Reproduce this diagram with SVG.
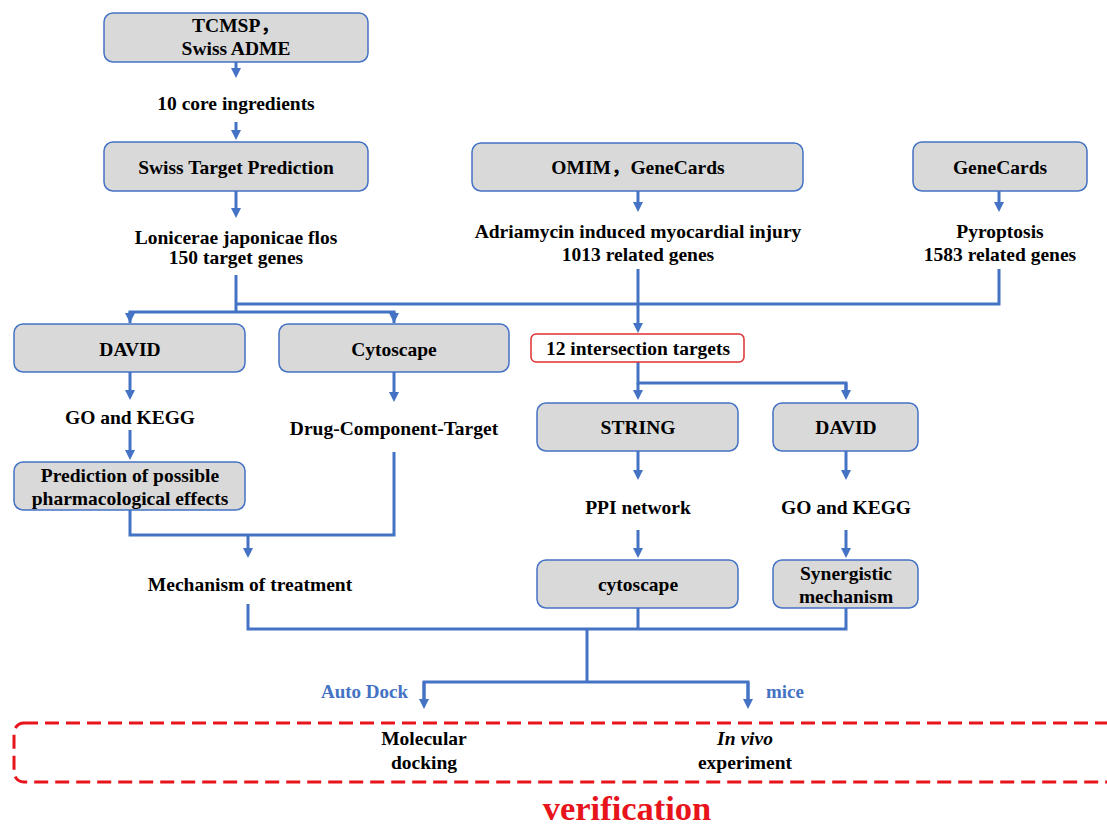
<svg xmlns="http://www.w3.org/2000/svg" width="1107" height="825" viewBox="0 0 1107 825">
<defs>
<style>
.box{fill:#d9d9d9;stroke:#4472c4;stroke-width:1.5}
.t{font-family:'Liberation Serif','Times New Roman','Noto Sans CJK SC',serif;font-weight:bold;font-size:19.5px;fill:#000;text-anchor:middle}
.b{font-family:'Liberation Serif','Times New Roman',serif;font-weight:bold;font-size:19px;fill:#4472c4}
.c{fill:none;stroke:#4472c4;stroke-width:3}
.ca{fill:none;stroke:#4472c4;stroke-width:3;marker-end:url(#ah)}
</style>
<marker id="ah" viewBox="0 0 10 10" refX="2" refY="5" markerWidth="10" markerHeight="10" markerUnits="userSpaceOnUse" orient="auto">
<path d="M0,0 L10,5 L0,10 z" fill="#4472c4"/>
</marker>
</defs>
<rect width="1107" height="825" fill="#fff"/>

<g id="connectors">
<line class="ca" x1="236" y1="62" x2="236" y2="70"/>
<line class="ca" x1="236" y1="122" x2="236" y2="132"/>
<line class="ca" x1="236" y1="191" x2="236" y2="210"/>
<line class="ca" x1="638" y1="191" x2="638" y2="204"/>
<line class="ca" x1="999" y1="191" x2="999" y2="204"/>
<polyline class="c" points="236,275 236,312"/>
<polyline class="c" points="236,304 999,304 999,269"/>
<polyline class="c" points="130,323 130,312 394,312 394,323"/>
<line class="ca" x1="130" y1="312" x2="130" y2="315"/>
<line class="ca" x1="394" y1="312" x2="394" y2="315"/>
<line class="ca" x1="638" y1="269" x2="638" y2="325"/>
<polyline class="c" points="638,362 638,383 846,383 846,392"/>
<line class="ca" x1="638" y1="383" x2="638" y2="392"/>
<line class="ca" x1="846" y1="383" x2="846" y2="392"/>
<line class="ca" x1="130" y1="372" x2="130" y2="392"/>
<line class="ca" x1="130" y1="430" x2="130" y2="452"/>
<line class="ca" x1="394" y1="372" x2="394" y2="394"/>
<polyline class="c" points="394,452 394,535 130,535 130,510"/>
<line class="ca" x1="248" y1="535" x2="248" y2="550"/>
<line class="ca" x1="638" y1="451" x2="638" y2="472"/>
<line class="ca" x1="638" y1="530" x2="638" y2="550"/>
<line class="ca" x1="846" y1="451" x2="846" y2="472"/>
<line class="ca" x1="846" y1="530" x2="846" y2="550"/>
<polyline class="c" points="248,604 248,629 846,629 846,608"/>
<line class="c" x1="638" y1="608" x2="638" y2="629"/>
<line class="c" x1="587" y1="629" x2="587" y2="682"/>
<polyline class="c" points="424,701 424,682 748,682 748,701"/>
<line class="ca" x1="424" y1="682" x2="424" y2="701"/>
<line class="ca" x1="748" y1="682" x2="748" y2="701"/>
</g>

<g id="n-tcmsp">
<rect class="box" x="104" y="13" width="264" height="49" rx="9"/>
<text class="t" x="236" y="32">TCMSP，</text>
<text class="t" x="236" y="55">Swiss ADME</text>
</g>
<g id="n-core"><text class="t" x="236" y="110">10 core ingredients</text></g>
<g id="n-stp">
<rect class="box" x="104" y="142" width="264" height="49" rx="9"/>
<text class="t" x="236" y="174">Swiss Target Prediction</text>
</g>
<g id="n-lonicerae">
<text class="t" x="236" y="244">Lonicerae japonicae flos</text>
<text class="t" x="236" y="264">150 target genes</text>
</g>
<g id="n-omim">
<rect class="box" x="472" y="143" width="331" height="48" rx="9"/>
<text class="t" x="638" y="174">OMIM，GeneCards</text>
</g>
<g id="n-adria">
<text class="t" x="638" y="238">Adriamycin induced myocardial injury</text>
<text class="t" x="638" y="261">1013 related genes</text>
</g>
<g id="n-genecards">
<rect class="box" x="913" y="142" width="174" height="49" rx="9"/>
<text class="t" x="1000" y="174">GeneCards</text>
</g>
<g id="n-pyro">
<text class="t" x="1000" y="238">Pyroptosis</text>
<text class="t" x="1000" y="261">1583 related genes</text>
</g>
<g id="n-david1">
<rect class="box" x="14" y="324" width="231" height="48" rx="9"/>
<text class="t" x="130" y="356">DAVID</text>
</g>
<g id="n-cyto1">
<rect class="box" x="279" y="324" width="230" height="48" rx="9"/>
<text class="t" x="394" y="356">Cytoscape</text>
</g>
<g id="n-intersect">
<rect x="531" y="334" width="213" height="28" rx="5" fill="#fff" stroke="#e03030" stroke-width="1.5"/>
<text class="t" x="638" y="355">12 intersection targets</text>
</g>
<g id="n-gokegg1"><text class="t" x="130" y="424">GO and KEGG</text></g>
<g id="n-dct"><text class="t" x="394" y="435">Drug-Component-Target</text></g>
<g id="n-pred">
<rect class="box" x="14" y="462" width="231" height="48" rx="9"/>
<text class="t" x="130" y="482">Prediction of possible</text>
<text class="t" x="130" y="505">pharmacological effects</text>
</g>
<g id="n-mech"><text class="t" x="250" y="591">Mechanism of treatment</text></g>
<g id="n-string">
<rect class="box" x="537" y="403" width="201" height="48" rx="9"/>
<text class="t" x="638" y="434">STRING</text>
</g>
<g id="n-david2">
<rect class="box" x="773" y="403" width="145" height="48" rx="9"/>
<text class="t" x="846" y="434">DAVID</text>
</g>
<g id="n-ppi"><text class="t" x="638" y="514">PPI network</text></g>
<g id="n-gokegg2"><text class="t" x="846" y="514">GO and KEGG</text></g>
<g id="n-cyto2">
<rect class="box" x="537" y="560" width="201" height="48" rx="9"/>
<text class="t" x="638" y="591">cytoscape</text>
</g>
<g id="n-syn">
<rect class="box" x="773" y="560" width="145" height="48" rx="9"/>
<text class="t" x="846" y="580">Synergistic</text>
<text class="t" x="846" y="603">mechanism</text>
</g>
<g id="labels">
<text class="b" x="408" y="698" text-anchor="end">Auto Dock</text>
<text class="b" x="766" y="698">mice</text>
</g>
<g id="n-verification">
<rect x="14" y="723" width="1110" height="59" rx="10" fill="none" stroke="#e8141c" stroke-width="3" stroke-dasharray="14 7"/>
<text class="t" x="424" y="745">Molecular</text>
<text class="t" x="424" y="769">docking</text>
<text class="t" x="745" y="745" font-style="italic">In vivo</text>
<text class="t" x="745" y="769">experiment</text>
<text x="627" y="820" text-anchor="middle" font-family="'Liberation Serif','Times New Roman',serif" font-weight="bold" font-size="34.5" fill="#e8141c">verification</text>
</g>
</svg>
